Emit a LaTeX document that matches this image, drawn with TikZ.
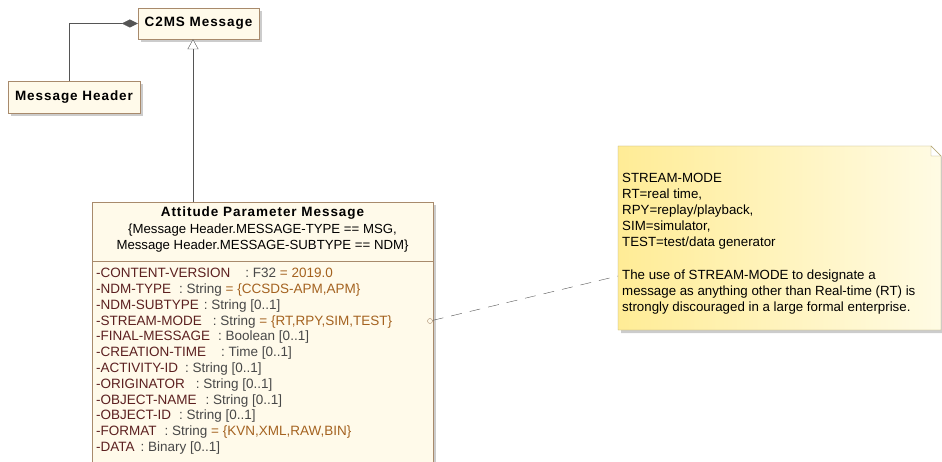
\documentclass[tikz,border=0pt]{standalone}
\usepackage{fontspec}
\setmainfont{Liberation Sans}
\usepackage{xcolor}
\usetikzlibrary{positioning,arrows.meta,shadows}

\definecolor{classfill}{RGB}{255,250,234}
\definecolor{classborder}{RGB}{168,138,108}
\definecolor{linegray}{RGB}{85,85,85}
\definecolor{attrname}{RGB}{92,32,32}
\definecolor{attrtype}{RGB}{72,72,72}
\definecolor{attrval}{RGB}{164,98,32}
\definecolor{noteleft}{RGB}{255,236,150}
\definecolor{noteright}{RGB}{255,251,228}
\definecolor{noteborder}{RGB}{178,164,112}

\newcommand{\attr}[3]{\textcolor{attrname}{-#1}\hspace{#2pt}\textcolor{attrtype}{: #3}}
\newcommand{\attrval}[1]{ \textcolor{attrval}{= #1}}

\begin{document}
\begin{tikzpicture}[
        x=1pt, y=-1pt,
        box/.style={rectangle, draw=classborder, fill=classfill, inner sep=0pt,
            drop shadow={shadow xshift=3pt, shadow yshift=-3pt, fill=black!40, opacity=0.5}},
        boxtitle/.style={font=\bfseries\fontsize{13.5}{15}\selectfont\addfontfeatures{LetterSpace=7}},
        comp/.style={draw=linegray, -{Diamond[length=16pt, width=8pt, fill=linegray]}},
        gen/.style={draw=linegray, -{Triangle[open, length=10pt, width=11pt, fill=white]}},
        notelink/.style={draw=linegray, dash pattern=on 11pt off 8pt},
        attrs/.style={anchor=north west, align=left, inner sep=0pt,
            font=\fontsize{13.5}{15.8}\selectfont},
        notetext/.style={anchor=north west, align=left, inner sep=0pt,
            font=\fontsize{13.3}{16.1}\selectfont}
    ]
        \useasboundingbox (0,0) rectangle (942,462);
        \clip (0,0) rectangle (942,462);

        % Parent class
        \node[box, boxtitle, minimum width=121pt, minimum height=31pt] (c2ms) at (198.5,23.5) {C2MS Message};

        % Header class
        \node[box, boxtitle, minimum width=132pt, minimum height=32pt] (header) at (74,97) {Message Header};

        % Attitude Parameter Message class
        \node[box, minimum width=341pt, minimum height=290pt, anchor=north west] (apm) at (92,202) {};
        \node[boxtitle] (apmtitle) at (262.5,213) {Attitude Parameter Message};
        \node[align=center, inner sep=0pt, font=\fontsize{13.2}{16}\selectfont] (apmcons) at (262.5,238.5)
            {\{Message Header.MESSAGE-TYPE == MSG,\\Message Header.MESSAGE-SUBTYPE == NDM\}};
        \draw[classborder] (92,261) -- (433,261);
        \node[attrs] (apmattrs) at (96,268) {%
            \attr{CONTENT-VERSION}{15}{F32}\attrval{2019.0}\\
            \attr{NDM-TYPE}{8}{String}\attrval{\{CCSDS-APM,APM\}}\\
            \attr{NDM-SUBTYPE}{5}{String [0..1]}\\
            \attr{STREAM-MODE}{11}{String}\attrval{\{RT,RPY,SIM,TEST\}}\\
            \attr{FINAL-MESSAGE}{8}{Boolean [0..1]}\\
            \attr{CREATION-TIME}{15}{Time [0..1]}\\
            \attr{ACTIVITY-ID}{7}{String [0..1]}\\
            \attr{ORIGINATOR}{11}{String [0..1]}\\
            \attr{OBJECT-NAME}{9}{String [0..1]}\\
            \attr{OBJECT-ID}{8}{String [0..1]}\\
            \attr{FORMAT}{8}{String}\attrval{\{KVN,XML,RAW,BIN\}}\\
            \attr{DATA}{6}{Binary [0..1]}};

        % Note
        \path[draw=noteborder, left color=noteleft, right color=noteright,
            drop shadow={shadow xshift=3pt, shadow yshift=-3pt, fill=black!40, opacity=0.5}]
            (618,146) -- (931,146) -- (941,156) -- (941,330) -- (618,330) -- cycle;
        \draw[noteborder, fill=white] (931,146) -- (931,156) -- (941,156) -- cycle;
        \node[notetext] (note) at (622,173) {%
            STREAM-MODE\\
            RT=real time,\\
            RPY=replay/playback,\\
            SIM=simulator,\\
            TEST=test/data generator\\
            \mbox{}\\
            The use of STREAM-MODE to designate a\\
            message as anything other than Real-time (RT) is\\
            strongly discouraged in a large formal enterprise.};
        \coordinate (notein) at (618,276);

        % Anchor on STREAM-MODE
        \node[circle, draw=classborder, fill=classfill, inner sep=0pt, minimum size=5pt] (streamanchor) at (430,321) {};

        % Connectors
        \coordinate (genx) at (193,0);
        \coordinate (compx) at (69,0);
        \draw[comp] (compx |- header.north) |- (c2ms.west);
        \draw[gen] (genx |- apm.north) -- (genx |- c2ms.south);
        \draw[notelink] (streamanchor) -- (notein);
    \end{tikzpicture}
\end{document}
